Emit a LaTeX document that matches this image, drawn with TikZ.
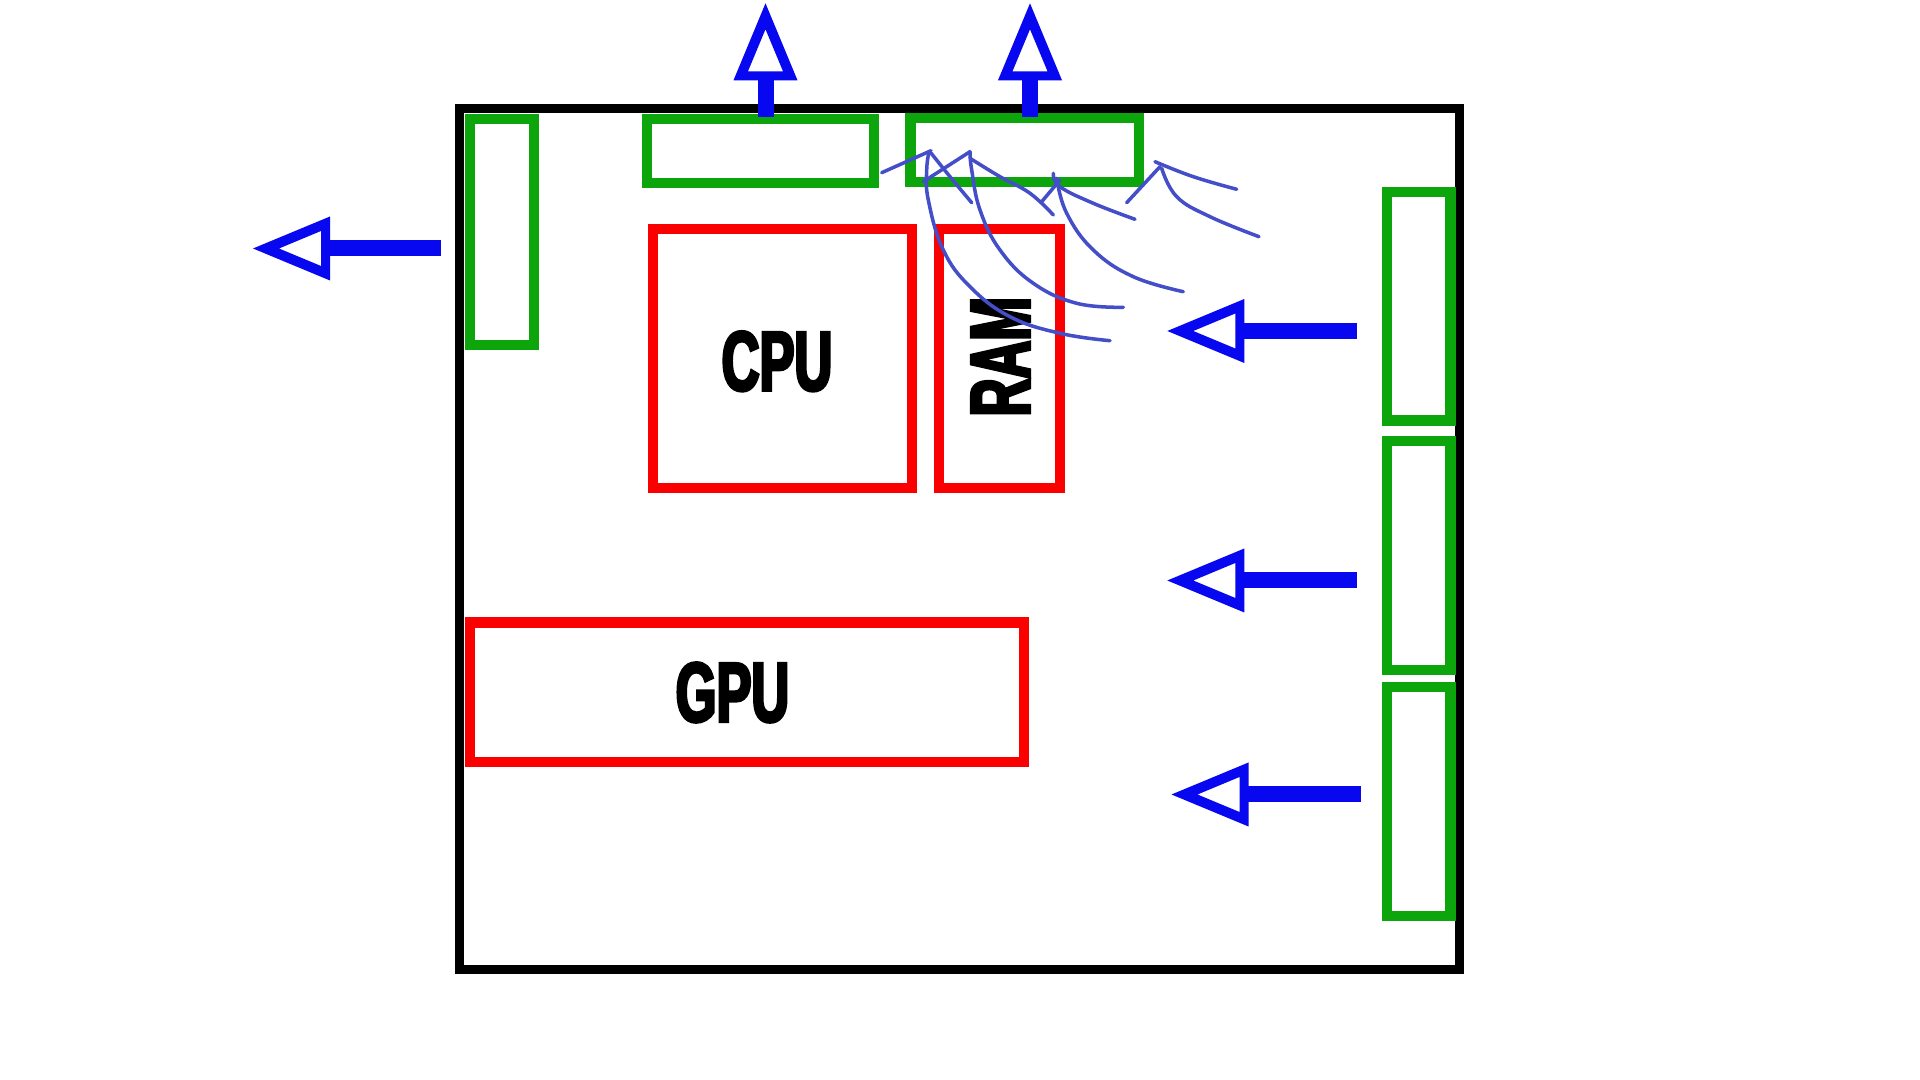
\documentclass[tikz,border=0pt]{standalone}
\usepackage{fontspec}
\newfontfamily\impfont[FakeBold=3.5,FakeStretch=0.62]{Liberation Sans}
\definecolor{casek}{RGB}{0,0,0}
\definecolor{fangreen}{RGB}{12,166,12}
\definecolor{partred}{RGB}{250,0,0}
\definecolor{flowblue}{RGB}{8,8,240}
\definecolor{airblue}{RGB}{68,78,200}
\tikzset{
  casebox/.style={draw=casek, line width=2.56pt, line join=miter},
  fanbox/.style={draw=fangreen, line width=2.85pt, line join=miter},
  partbox/.style={draw=partred, line width=2.85pt, line join=miter},
  label/.style={inner sep=0pt, font=\impfont\bfseries\fontsize{24}{24}\selectfont, text=black},
  airline/.style={draw=airblue, line width=1pt, line cap=round, line join=round},
  pics/harrow/.style={code={
    \fill[flowblue, even odd rule] (0,0) -- (77,-32) -- (77,32) -- cycle
      (26,0) -- (68,-17.5) -- (68,17.5) -- cycle;
    \fill[flowblue] (76,-8) rectangle (#1,8);
  }}
}
\begin{document}
\begin{tikzpicture}[x=0.01cm, y=-0.01cm]
\useasboundingbox (0,0) rectangle (1920,1080);
\fill[white] (0,0) rectangle (1920,1080);

% case
\draw[casebox] (459.5,108.5) rectangle (1459.5,969.5);

% fans (green)
\draw[fanbox] (470,118.7) rectangle (534,345);
\draw[fanbox] (647,119.5) rectangle (874,183.5);
\draw[fanbox] (910.5,118.5) rectangle (1138.7,181.7);
\draw[fanbox] (1387,192) rectangle (1450.5,420.5);
\draw[fanbox] (1387,441.3) rectangle (1450.5,669.7);
\draw[fanbox] (1387,687.3) rectangle (1450.5,916);

% parts (red)
\draw[partbox] (653,229) rectangle (912,488);
\draw[partbox] (939.3,229) rectangle (1060,488);
\draw[partbox] (470,622.5) rectangle (1024,762);

% labels
\node[label] (cpu) at (777,361.3) {CPU};
\node[label, rotate=90] (ram) at (1000.5,356.7) {RAM};
\node[label] (gpu) at (732.5,692.5) {GPU};

% air flow arrows
\pic at (253,248.5) {harrow=188};
\pic[rotate=-90] at (765.5,3.3) {harrow=113.5};
\pic[rotate=-90] at (1030,3.3) {harrow=113.5};
\pic at (1167.3,331) {harrow=189.5};
\pic at (1167.3,580.5) {harrow=189.5};
\pic at (1171.5,794.5) {harrow=189.5};

% hand-drawn air streams
\draw[airline] (881.7,172.7) -- (931,150.7);
\draw[airline] plot[smooth, tension=0.7] coordinates {(929,152) (926.7,170) (928.3,200) (943.3,250) (970,286.7) (1010,316.7) (1060,333.3) (1110,340.7)};
\draw[airline] plot[smooth, tension=0.7] coordinates {(931,153) (950,176.7) (971.7,202.7)};
\draw[airline] (923.3,181.7) -- (970,151.7);
\draw[airline] plot[smooth, tension=0.7] coordinates {(970,151.7) (971.7,170) (980,210) (1000,250) (1033.3,283.3) (1076.7,303.3) (1123.3,307.3)};
\draw[airline] plot[smooth, tension=0.7] coordinates {(970,158.3) (1000,176.7) (1030,193.3) (1053.3,215)};
\draw[airline] (1041.7,201.7) -- (1060,180);
\draw[airline] plot[smooth, tension=0.7] coordinates {(1053.3,173.3) (1060,186.7) (1093.3,203.3) (1135,219.3)};
\draw[airline] plot[smooth, tension=0.7] coordinates {(1056.7,178.3) (1066.7,213.3) (1093.3,250) (1133.3,276.7) (1183.3,291.7)};
\draw[airline] (1126.7,202.7) -- (1160,166.7);
\draw[airline] plot[smooth, tension=0.7] coordinates {(1155,161.7) (1193.3,176.7) (1236.7,189.3)};
\draw[airline] plot[smooth, tension=0.7] coordinates {(1161.7,168.3) (1176.7,196.7) (1210,216.7) (1259,236.7)};
\end{tikzpicture}
\end{document}
